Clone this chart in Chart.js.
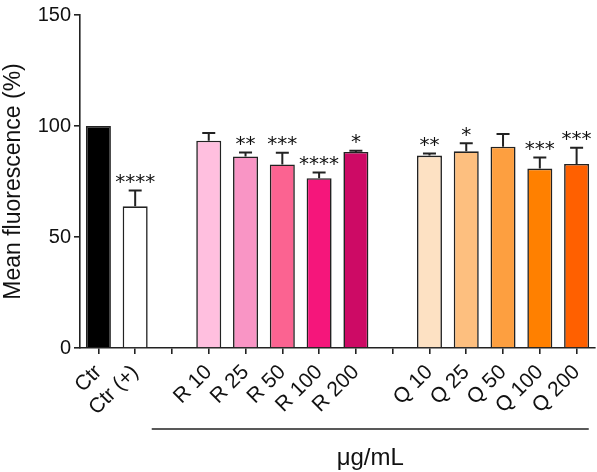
<!DOCTYPE html>
<html>
<head>
<meta charset="utf-8">
<script src="https://cdn.jsdelivr.net/npm/chart.js@4.4.1/dist/chart.umd.min.js"></script>
<style>
html,body{margin:0;padding:0;background:#fff;}
#c{display:block;}
</style>
</head>
<body>
<canvas id="c" width="597" height="472"></canvas>
<script>
const categories = ['Ctr','Ctr (+)','','R 10','R 25','R 50','R 100','R 200','','Q 10','Q 25','Q 50','Q 100','Q 200'];
const meanValues = [100, 63.8, null, 93.4, 86.3, 82.7, 76.5, 88.3, null, 86.7, 88.6, 90.7, 80.8, 82.9];
const semValues  = [0, 7.2, null, 3.4, 1.8, 5.2, 2.5, 0.6, null, 0.9, 3.6, 5.7, 5.0, 7.3];
const significance = ['', '****', '', '', '**', '***', '****', '*', '', '**', '*', '', '***', '***'];
const barColors = ['#000000','#ffffff','#ffffff','#ffbfdf','#f995c5','#fb6391','#f5167b','#cd0a65','#ffffff','#fde1c3','#fdbf7f','#fd9f40','#ff8000','#ff6000'];
const yTicks = [0, 50, 100, 150];
const unitLabel = 'μg/mL';
const groupSpan = [1.45, 13.33];

const FONT = "'Liberation Sans', Arial, sans-serif";

const annotations = {
  id: 'annotations',
  afterDatasetsDraw(chart) {
    const ctx = chart.ctx;
    const meta = chart.getDatasetMeta(0);
    const y = chart.scales.y;
    const x = chart.scales.x;
    ctx.save();
    meta.data.forEach((bar, i) => {
      const v = meanValues[i];
      if (v === null) return;
      const e = semValues[i] || 0;
      const top = y.getPixelForValue(v + e);
      const base = y.getPixelForValue(v);
      const cx = bar.x;
      if (e > 0) {
        ctx.strokeStyle = '#222';
        ctx.lineWidth = 2;
        ctx.beginPath();
        ctx.moveTo(cx, base);
        ctx.lineTo(cx, top);
        ctx.moveTo(cx - 6.5, top);
        ctx.lineTo(cx + 6.5, top);
        ctx.stroke();
      }
      const s = significance[i];
      if (s) {
        ctx.font = "20px 'DejaVu Sans', sans-serif";
        ctx.fillStyle = '#111';
        ctx.textAlign = 'center';
        ctx.textBaseline = 'alphabetic';
        const m = ctx.measureText(s);
        const asc = m.actualBoundingBoxAscent, desc = m.actualBoundingBoxDescent;
        const centerY = top - 12;
        ctx.fillText(s, cx, centerY + (asc - desc) / 2);
      }
    });
    const x1 = x.getPixelForValue(groupSpan[0]);
    const x2 = x.getPixelForValue(groupSpan[1]);
    const ly = 429;
    ctx.strokeStyle = '#222';
    ctx.lineWidth = 1.6;
    ctx.beginPath();
    ctx.moveTo(x1, ly);
    ctx.lineTo(x2, ly);
    ctx.stroke();
    ctx.font = "24px " + FONT;
    ctx.fillStyle = '#111';
    ctx.textAlign = 'center';
    ctx.textBaseline = 'middle';
    ctx.fillText(unitLabel, (x1 + x2) / 2, 458);
    ctx.restore();
  }
};

new Chart(document.getElementById('c'), {
  type: 'bar',
  data: {
    labels: categories,
    datasets: [{
      data: meanValues,
      backgroundColor: barColors,
      borderColor: '#222',
      borderWidth: 1.6,
      borderSkipped: 'bottom',
      barPercentage: 0.68,
      categoryPercentage: 1.0
    }]
  },
  options: {
    responsive: false,
    devicePixelRatio: 1,
    animation: false,
    layout: { padding: { top: 14, right: 2, left: 0, bottom: 0 } },
    plugins: { legend: { display: false }, tooltip: { enabled: false } },
    scales: {
      x: {
        offset: true,
        grid: { display: true, drawOnChartArea: false, drawTicks: true, tickLength: 6, color: '#222', lineWidth: 1.6, offset: false },
        border: { display: true, color: '#222', width: 1.6 },
        ticks: {
          autoSkip: false, minRotation: 45, maxRotation: 45, padding: 6,
          color: '#111', font: { family: FONT, size: 21 }
        },
        afterFit(scale) { scale.height = 124; scale.paddingLeft = 0; scale.paddingRight = 0; }
      },
      y: {
        min: 0, max: 150,
        afterBuildTicks(scale) { scale.ticks = yTicks.map(v => ({ value: v })); },
        grid: { display: true, drawOnChartArea: false, drawTicks: true, tickLength: 6, color: '#222', lineWidth: 1.6 },
        border: { display: true, color: '#222', width: 1.6 },
        ticks: { color: '#111', padding: 3, font: { family: FONT, size: 20 } },
        title: { display: true, text: 'Mean fluorescence (%)', color: '#111', font: { family: FONT, size: 23 }, padding: 0 },
        afterFit(scale) { scale.width = 80; }
      }
    }
  },
  plugins: [annotations]
});
</script>
</body>
</html>
